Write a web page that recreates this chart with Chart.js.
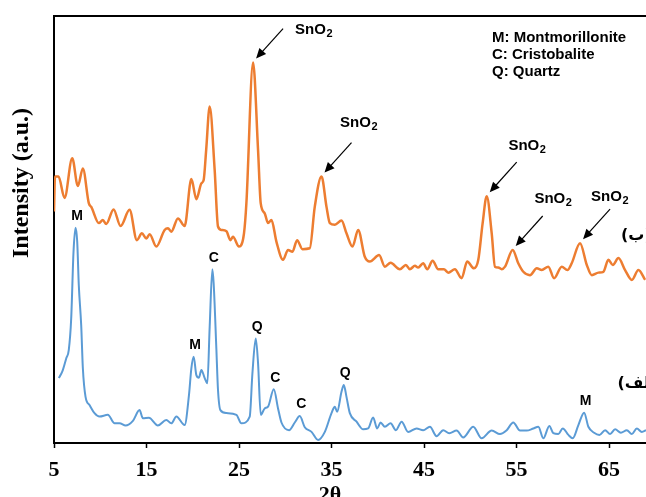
<!DOCTYPE html>
<html>
<head>
<meta charset="utf-8">
<script src="https://cdn.jsdelivr.net/npm/chart.js@4.4.1/dist/chart.umd.min.js"></script>
<style>
body { margin: 0; background: #fff; }
canvas { display: block; }
</style>
</head>
<body>
<canvas id="grafico" width="646" height="497"></canvas>
<script>
// sample (ب) - orange
const orangeX = [5.0, 5.11, 5.49, 6.14, 6.97, 7.58, 8.12, 8.77, 9.03, 9.85,
    10.28, 10.65, 11.44, 12.20, 13.17, 13.96, 14.50, 14.98, 15.34, 16.06,
    16.96, 17.32, 17.68, 18.40, 19.12, 19.85, 20.39, 20.93, 21.18, 21.45,
    21.83, 22.37, 22.73, 23.10, 23.64, 24.07, 24.35, 25.00, 25.54, 25.80,
    26.52, 27.06, 27.35, 27.78, 28.14, 28.51, 29.05, 29.76, 30.30, 30.78,
    31.28, 31.86, 32.65, 33.19, 33.92, 34.46, 34.82, 35.36, 36.08, 36.62,
    37.27, 37.88, 38.60, 39.14, 40.15, 40.77, 41.39, 42.39, 43.04, 43.47,
    44.02, 44.37, 44.91, 45.35, 45.93, 46.54, 47.15, 47.62, 48.34, 49.07,
    49.67, 50.40, 50.87, 51.34, 51.78, 52.32, 52.67, 53.03, 53.40, 53.76,
    54.59, 55.19, 55.74, 56.46, 57.19, 57.73, 58.44, 59.06, 59.89, 60.50,
    60.97, 61.87, 62.60, 63.14, 63.85, 64.39, 64.93, 65.41, 66.02, 66.74,
    67.47, 68.18, 68.91];
const orangeY = [54.2, 62.4, 62.4, 57.4, 66.7, 60.2, 64.3, 56.1, 55.3, 51.5,
    52.2, 51.3, 54.7, 50.8, 54.6, 47.5, 49.1, 47.9, 48.9, 46.0,
    49.9, 50.3, 49.5, 52.6, 50.8, 61.8, 57.1, 60.8, 61.6, 68.6,
    78.8, 63.9, 50.7, 49.9, 49.6, 47.5, 48.3, 46.0, 49.1, 56.2,
    89.1, 68.6, 56.1, 53.8, 51.5, 52.2, 47.1, 42.9, 45.2, 44.8,
    47.5, 45.4, 45.6, 55.3, 62.4, 55.3, 51.5, 51.1, 52.1, 49.1,
    46.0, 49.9, 43.6, 42.5, 44.0, 41.3, 42.2, 40.7, 41.7, 40.7,
    41.5, 41.1, 42.1, 40.7, 42.7, 40.7, 40.7, 39.9, 40.7, 38.6,
    42.5, 40.9, 42.9, 51.5, 57.8, 49.1, 41.3, 41.1, 40.7, 41.3,
    45.2, 42.1, 40.1, 39.3, 40.9, 40.5, 41.3, 38.6, 41.3, 40.5,
    42.1, 46.8, 41.7, 39.3, 39.9, 40.1, 42.9, 41.7, 43.3, 40.5,
    38.2, 40.5, 38.2];

// sample (الف) - blue
const blueX = [5.52, 5.89, 6.32, 6.60, 6.86, 7.11, 7.33, 7.51, 7.68, 7.94,
    8.12, 8.41, 8.84, 9.38, 9.92, 10.82, 11.55, 12.09, 12.74, 13.53,
    14.25, 14.61, 15.26, 16.23, 17.14, 17.68, 18.23, 19.12, 19.59, 19.85,
    20.10, 20.39, 20.67, 20.93, 21.29, 21.58, 21.83, 22.12, 22.26, 22.55,
    22.73, 22.99, 23.64, 24.72, 25.26, 26.16, 26.45, 26.81, 27.06, 27.35,
    27.78, 28.14, 28.76, 29.22, 29.59, 30.41, 31.03, 31.57, 32.11, 32.84,
    33.55, 34.28, 35.00, 35.36, 35.61, 36.08, 36.33, 36.62, 36.98, 37.71,
    38.42, 38.96, 39.50, 39.94, 40.30, 40.77, 41.39, 41.96, 42.58, 43.29,
    44.20, 44.91, 45.64, 46.36, 47.08, 47.73, 48.53, 49.24, 50.32, 51.23,
    52.32, 53.21, 53.94, 54.65, 55.38, 56.10, 56.82, 57.36, 57.90, 58.55,
    58.98, 59.52, 60.00, 60.61, 61.08, 61.69, 62.31, 62.77, 63.39, 63.96,
    64.58, 65.12, 65.66, 66.28, 66.93, 67.47, 68.01, 68.55, 69.0];
const blueY = [15.2, 16.7, 19.8, 21.8, 29.2, 44.8, 50.4, 47.1, 37.0, 27.6,
    17.5, 10.8, 8.9, 7.0, 6.2, 6.6, 4.6, 4.6, 4.1, 5.2,
    7.7, 5.8, 5.9, 4.1, 5.4, 4.6, 6.2, 4.2, 11.2, 17.5,
    20.2, 15.9, 15.3, 17.1, 15.2, 14.0, 27.2, 40.7, 37.4, 22.2,
    12.4, 7.7, 7.0, 6.6, 4.6, 6.2, 16.3, 24.5, 18.7, 6.6,
    8.1, 8.5, 12.6, 8.1, 4.8, 3.0, 4.8, 6.3, 3.7, 2.6,
    0.7, 2.6, 7.0, 8.5, 7.3, 12.0, 13.6, 10.8, 7.0, 5.0,
    3.2, 3.4, 6.0, 3.4, 4.8, 3.8, 4.6, 3.0, 5.0, 2.6,
    3.4, 3.0, 3.8, 1.6, 3.0, 2.3, 2.9, 1.3, 3.8, 1.1,
    2.9, 2.1, 3.0, 4.8, 2.9, 2.9, 3.4, 3.8, 1.1, 4.0,
    2.3, 2.1, 3.4, 1.9, 1.1, 4.2, 7.1, 3.8, 2.4, 1.9,
    3.0, 2.1, 3.2, 2.4, 3.0, 2.1, 3.4, 2.6, 3.0];

const xTicks = [5, 15, 25, 35, 45, 55, 65];

// SnO2 peaks on the orange pattern
const snX = [26.52, 33.92, 51.78, 54.59, 61.87];
const snY = [89.1, 62.4, 57.8, 45.2, 46.8];

// phase peaks on the blue pattern
const phaseLabels = ["M", "M", "C", "Q", "C", "C", "Q", "M"];
const phaseX = [7.33, 20.10, 22.12, 26.81, 28.76, 31.57, 36.33, 62.31];
const phaseY = [50.4, 20.2, 40.7, 24.5, 12.6, 6.3, 13.6, 7.1];

const legendLines = ["M: Montmorillonite", "C: Cristobalite", "Q: Quartz"];
const sampleNames = ["(ب)", "(الف)"];

// where each SnO2 text sits relative to its arrow tail (px)
const snDx = [12, -11.4, -8.3, -8.3, -19];
const snDy = [1.5, -20, -16.7, -17.3, -12.4];

function seta(ctx, sx, sy, ex, ey) {
    const ang = Math.atan2(ey - sy, ex - sx);
    ctx.beginPath();
    ctx.moveTo(sx, sy);
    ctx.lineTo(ex - 7 * Math.cos(ang), ey - 7 * Math.sin(ang));
    ctx.stroke();
    ctx.beginPath();
    ctx.moveTo(ex, ey);
    ctx.lineTo(ex - 10 * Math.cos(ang) + 4.5 * Math.sin(ang), ey - 10 * Math.sin(ang) - 4.5 * Math.cos(ang));
    ctx.lineTo(ex - 10 * Math.cos(ang) - 4.5 * Math.sin(ang), ey - 10 * Math.sin(ang) + 4.5 * Math.cos(ang));
    ctx.closePath();
    ctx.fill();
}

function sno2(ctx, lx, my) {
    ctx.textAlign = "left";
    ctx.textBaseline = "middle";
    ctx.font = "bold 15px 'Liberation Sans', Arial";
    ctx.fillText("SnO", lx, my);
    const w = ctx.measureText("SnO").width;
    ctx.font = "bold 11px 'Liberation Sans', Arial";
    ctx.fillText("2", lx + w + 0.5, my + 4);
}

const extras = {
    id: "extras",
    beforeDraw(chart) {
        const ctx = chart.ctx;
        ctx.save();
        ctx.fillStyle = "#fff";
        ctx.fillRect(0, 0, chart.width, chart.height);
        ctx.restore();
    },
    afterDraw(chart) {
        const { ctx, chartArea, scales } = chart;
        const x = scales.x;
        const y = scales.y;
        ctx.save();

        // top frame line
        ctx.strokeStyle = "#000";
        ctx.lineWidth = 2;
        ctx.beginPath();
        ctx.moveTo(chartArea.left - 1, chartArea.top);
        ctx.lineTo(chartArea.right, chartArea.top);
        ctx.stroke();

        // SnO2 arrows and labels
        ctx.fillStyle = "#000";
        ctx.lineWidth = 1.2;
        for (let i = 0; i < snX.length; i++) {
            const ex = x.getPixelForValue(snX[i]) + 3;
            const ey = y.getPixelForValue(snY[i]) - 4;
            const sx = ex + 27;
            const sy = ey - 30;
            seta(ctx, sx, sy, ex, ey);
            sno2(ctx, sx + snDx[i], sy + snDy[i]);
        }

        // phase letters
        ctx.font = "bold 14px 'Liberation Sans', Arial";
        ctx.textAlign = "center";
        ctx.textBaseline = "middle";
        for (let i = 0; i < phaseLabels.length; i++) {
            ctx.fillText(phaseLabels[i], x.getPixelForValue(phaseX[i]) + 1.5, y.getPixelForValue(phaseY[i]) - 11.5);
        }

        // key
        ctx.font = "bold 15px 'Liberation Sans', Arial";
        ctx.textAlign = "left";
        legendLines.forEach((t, i) => ctx.fillText(t, 492, 38 + i * 17));

        // sample names
        ctx.font = "bold 16px 'DejaVu Sans', sans-serif";
        ctx.fillText(sampleNames[0], 621, 236);
        ctx.fillText(sampleNames[1], 617.5, 384);

        // axis titles
        ctx.font = "bold 22px 'Liberation Serif', 'Times New Roman'";
        ctx.textAlign = "center";
        ctx.textBaseline = "alphabetic";
        ctx.fillText("2θ", 330, 501);

        ctx.translate(22, 183);
        ctx.rotate(-Math.PI / 2);
        ctx.font = "bold 24px 'Liberation Serif', 'Times New Roman'";
        ctx.textBaseline = "middle";
        ctx.fillText("Intensity (a.u.)", 0, 0);

        ctx.restore();
    },
};

const ctx = document.getElementById("grafico");

new Chart(ctx, {
    type: "line",
    data: {
        datasets: [
            {
                label: "ب",
                data: orangeX.map((v, i) => ({ x: v, y: orangeY[i] })),
                borderColor: "#ED7D31",
                borderWidth: 2.5,
                pointRadius: 0,
                cubicInterpolationMode: "monotone",
                fill: false,
            },
            {
                label: "الف",
                data: blueX.map((v, i) => ({ x: v, y: blueY[i] })),
                borderColor: "#5B9BD5",
                borderWidth: 2,
                pointRadius: 0,
                cubicInterpolationMode: "monotone",
                fill: false,
            },
        ],
    },
    options: {
        responsive: false,
        animation: false,
        layout: { padding: { top: 16, right: 0, left: 0, bottom: 0 } },
        plugins: {
            legend: { display: false },
            tooltip: { enabled: false },
        },
        scales: {
            x: {
                type: "linear",
                min: 5,
                max: 69,
                afterBuildTicks: (s) => {
                    s.ticks = xTicks.map((v) => ({ value: v }));
                },
                afterFit: (s) => {
                    s.height = 54;
                },
                grid: { drawOnChartArea: false, tickLength: 5, tickColor: "#000", tickWidth: 1.5 },
                border: { color: "#000", width: 2 },
                ticks: {
                    color: "#000",
                    padding: 9,
                    maxRotation: 0,
                    autoSkip: false,
                    font: { family: "'Liberation Serif', 'Times New Roman'", size: 22, weight: "bold" },
                },
            },
            y: {
                min: 0,
                max: 100,
                afterFit: (s) => {
                    s.width = 54;
                },
                ticks: { display: false },
                grid: { display: false },
                border: { color: "#000", width: 2 },
            },
        },
    },
    plugins: [extras],
});
</script>
</body>
</html>
